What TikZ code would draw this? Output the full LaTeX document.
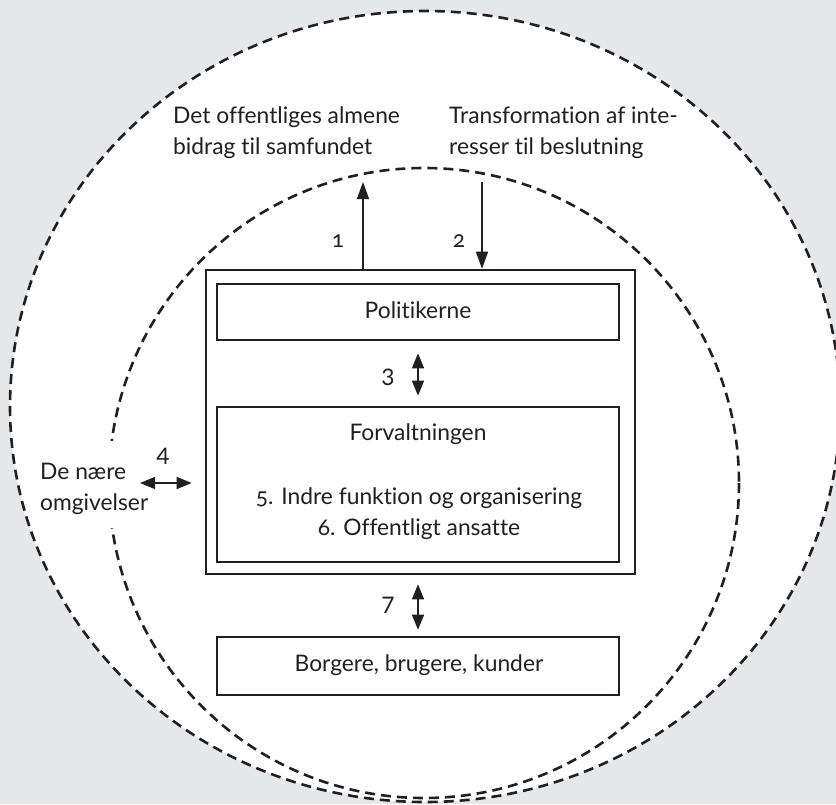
\documentclass[tikz,border=0pt]{standalone}
\usepackage{fontspec}
\setmainfont{Lato}[Ligatures=NoCommon]
\newfontfamily\oldnum{Lato}[Ligatures=NoCommon,Numbers=OldStyle]
\usetikzlibrary{arrows.meta}
\definecolor{bggray}{HTML}{E6E7E8}
\definecolor{ink}{HTML}{231F20}
\begin{document}
\begin{tikzpicture}[x=1pt,y=-1pt,
  box/.style={draw=ink, line width=2.6pt, minimum width=402pt, inner sep=0pt},
  outerframe/.style={draw=ink, line width=2.6pt, minimum width=429pt, minimum height=304pt, inner sep=0pt},
  lbl/.style={anchor=base, text=ink, font=\fontsize{22.8}{31}\selectfont, inner sep=0pt},
  lblw/.style={lbl, anchor=base west},
  arr/.style={draw=ink, line width=1.4pt, -{Triangle[length=17pt,width=12pt]}},
  arrb/.style={draw=ink, line width=1.4pt, {Triangle[length=15pt,width=12pt]}-{Triangle[length=15pt,width=12pt]}},
  ring/.style={draw=ink, line width=2.6pt, dash pattern=on 10pt off 6pt}
]
\useasboundingbox (0,0) rectangle (836,804);
\fill[bggray] (0,0) rectangle (836,804);
\fill[white] (425,406.5) ellipse [x radius=415, y radius=395.5];
\draw[ring] (425,406.5) ellipse [x radius=415, y radius=395.5];
\draw[ring] (424,483) circle [radius=315];
\fill[white] (38,441) rectangle (152,528);

% boxes
\node[outerframe] (frame) at (420.5,422) {};
\node[box, minimum height=56pt] (pol) at (418,312) {};
\node[box, minimum height=155pt] (forv) at (418,484.5) {};
\node[box, minimum height=58pt] (bor) at (418,666) {};

% box texts
\node[lbl] (tpol) at (418,318) {Politikerne};
\node[lbl] (tforv) at (418,440) {Forvaltningen};
\node[lbl] (t5) at (419,504) {{\oldnum 5.} Indre funktion og organisering};
\node[lbl] (t6) at (419,535) {{\oldnum 6.} Offentligt ansatte};
\node[lbl] (tbor) at (419,671) {Borgere, brugere, kunder};

% outside texts
\node[lblw] (d1) at (173,123) {Det offentliges almene};
\node[lblw] (d2) at (173,154) {bidrag til samfundet};
\node[lblw] (tr1) at (449,123) {Transformation af inte-};
\node[lblw] (tr2) at (449,154) {resser til beslutning};
\node[lblw] (n1) at (40,479) {De nære};
\node[lblw] (n2) at (40,510) {omgivelser};

% number labels
\node[lbl] (l1) at (338,247) {\oldnum 1};
\node[lbl] (l2) at (459,247) {\oldnum 2};
\node[lbl] (l3) at (388,385) {3};
\node[lbl] (l4) at (163,464) {4};
\node[lbl] (l7) at (388,613) {7};

% arrows
\coordinate (a1) at (363,182);
\coordinate (a2) at (482,182);
\coordinate (a4) at (140,483);
\draw[arr] (a1 |- frame.north) -- (a1);
\draw[arr] (a2) -- (a2 |- frame.north);
\draw[arrb, shorten <=12pt, shorten >=10pt] (pol.south) -- (forv.north);
\draw[arrb, shorten <=9pt, shorten >=6pt] (frame.south -| bor.north) -- (bor.north);
\draw[arrb, shorten >=13pt] (a4) -- (a4 -| frame.west);
\end{tikzpicture}
\end{document}
